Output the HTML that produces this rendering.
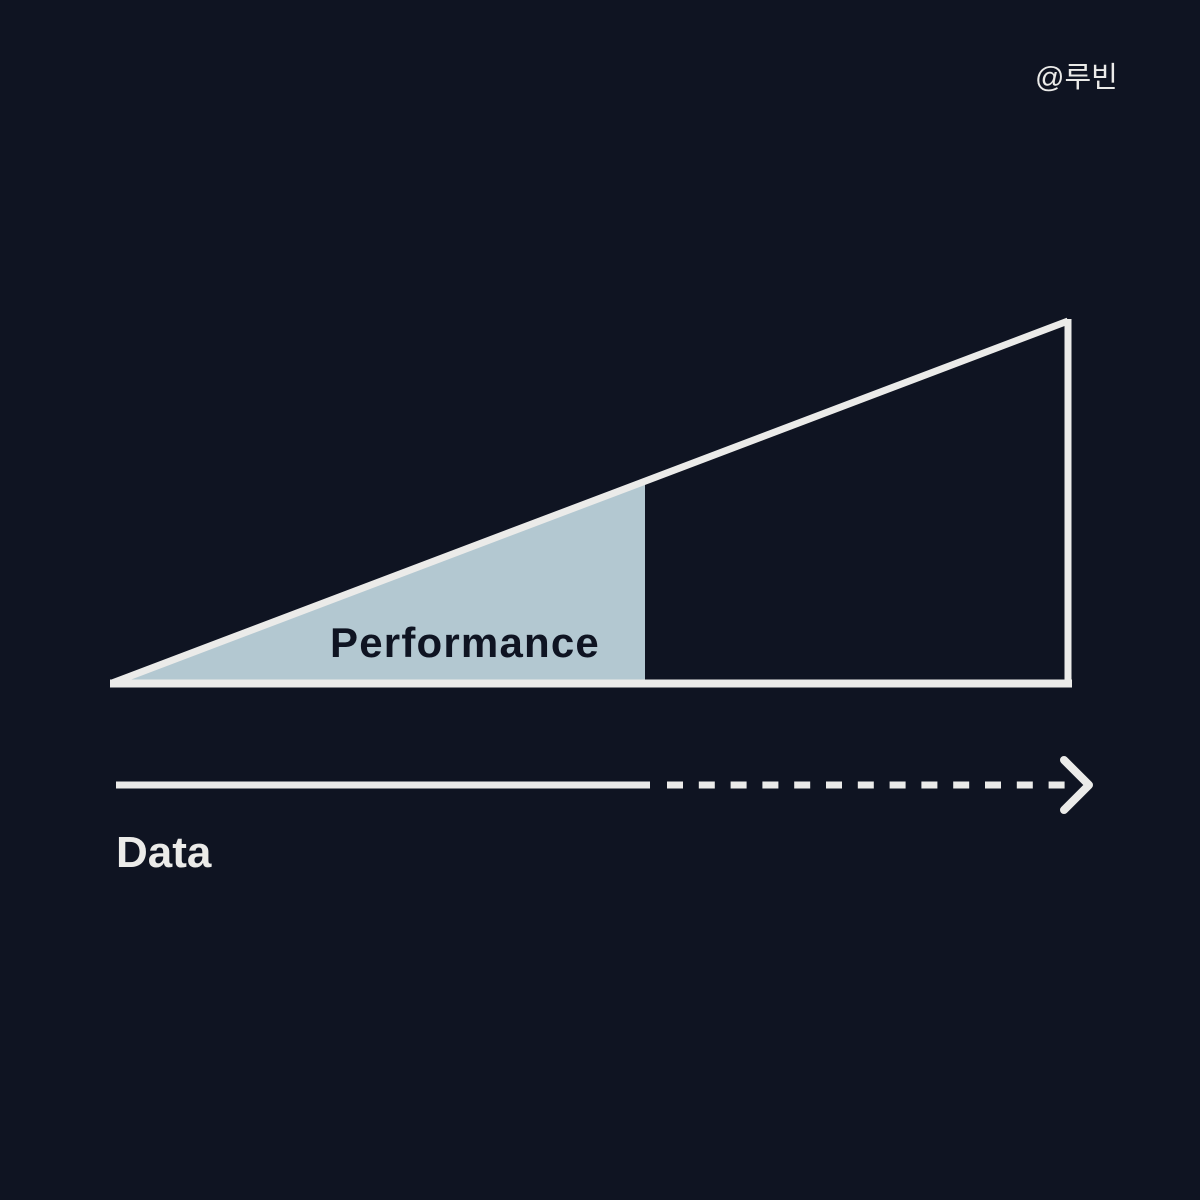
<!DOCTYPE html>
<html><head><meta charset="utf-8"><style>
html,body{margin:0;padding:0;background:#0f1422;}
svg{display:block}
</style></head><body>
<svg width="1200" height="1200" viewBox="0 0 1200 1200" xmlns="http://www.w3.org/2000/svg">
<rect width="1200" height="1200" fill="#0f1422"/>
<polygon points="112,683 645,481 645,683" fill="#b3c8d1"/>
<line x1="112" y1="683" x2="1068" y2="321" stroke="#ebebe9" stroke-width="7"/>
<line x1="110" y1="683.5" x2="1072" y2="683.5" stroke="#ebebe9" stroke-width="8"/>
<line x1="1068" y1="319" x2="1068" y2="687" stroke="#ebebe9" stroke-width="7"/>
<line x1="116" y1="785" x2="650" y2="785" stroke="#ebebe9" stroke-width="7"/>
<line x1="667" y1="785" x2="1070" y2="785" stroke="#ebebe9" stroke-width="7" stroke-dasharray="16 15.8"/>
<polyline points="1064,760 1089,785 1064,810" fill="none" stroke="#ebebe9" stroke-width="8" stroke-linecap="round" stroke-linejoin="round"/>
<text x="330" y="657" font-family="Liberation Sans, sans-serif" font-weight="bold" font-size="42" letter-spacing="1.2" fill="#0f1422">Performance</text>
<text x="116" y="867" font-family="Liberation Sans, sans-serif" font-weight="bold" font-size="44" fill="#ebebe9">Data</text>
<text x="1035" y="87" font-family="Liberation Sans, 'Noto Sans CJK KR', sans-serif" font-size="29" fill="#ebebe9">@루빈</text>
</svg>
</body></html>
